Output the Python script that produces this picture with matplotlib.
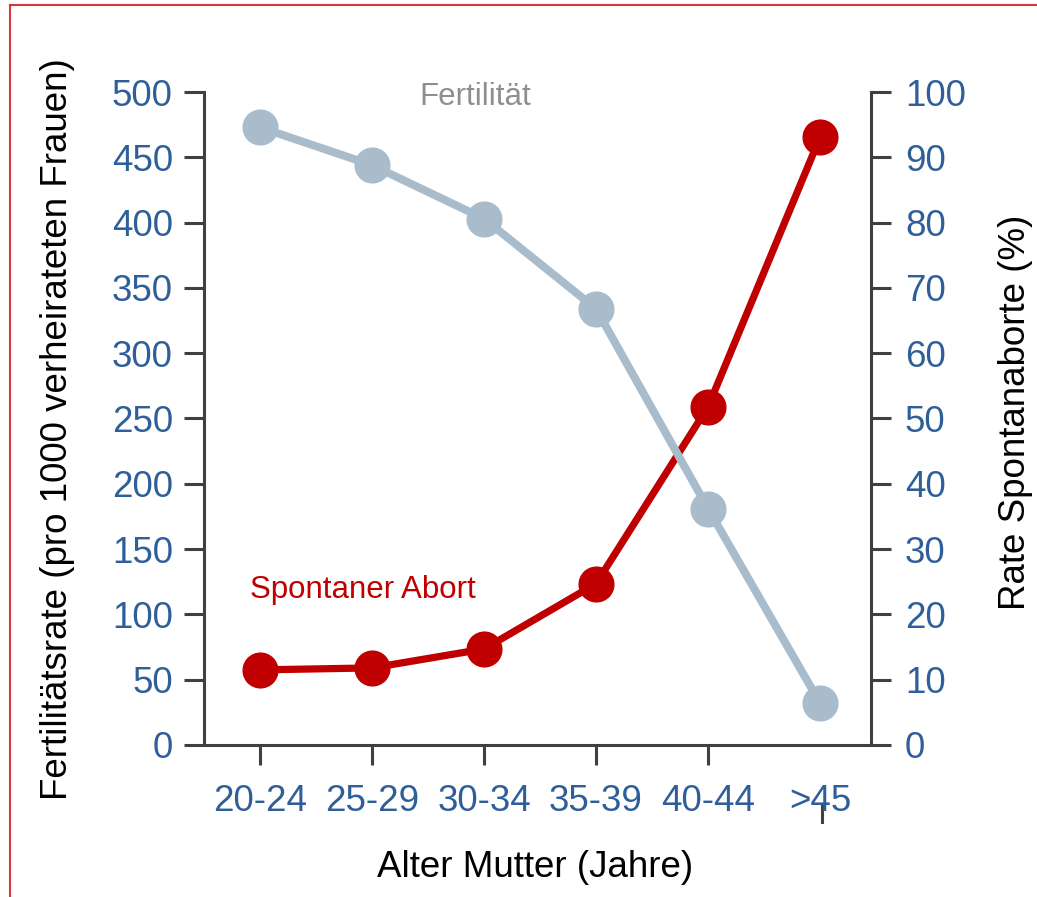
import matplotlib
matplotlib.use("Agg")
import matplotlib.pyplot as plt
import matplotlib.transforms as mtransforms
from matplotlib.lines import Line2D

plt.rcParams['font.family'] = ['Liberation Sans', 'DejaVu Sans']

categories = ["20-24", "25-29", "30-34", "35-39", "40-44", ">45"]
fertility = [473, 444, 403, 334, 181, 32]          # per 1000 married women (left axis)
abortion_rate = [11.5, 11.8, 14.7, 24.7, 51.8, 93.1]  # % (right axis)
left_ticks = [0, 50, 100, 150, 200, 250, 300, 350, 400, 450, 500]
right_ticks = [0, 10, 20, 30, 40, 50, 60, 70, 80, 90, 100]

GRAY = "#A9BCCB"
RED = "#C00000"
BLUE = "#2F5F99"
SPINE = "#404040"
FS = 26.5

fig = plt.figure(figsize=(10.37, 8.97), dpi=100)
ax = fig.add_axes([0.1967, 0.1695, 0.6433, 0.7279])
ax2 = ax.twinx()

x = list(range(len(categories)))

ax2.plot(x, abortion_rate, color=RED, lw=5.2, marker='o', markersize=25,
         solid_capstyle='round', zorder=2)
ax.plot(x, fertility, color=GRAY, lw=5.8, marker='o', markersize=25,
        solid_capstyle='round', zorder=3)
ax.set_zorder(ax2.get_zorder() + 1)
ax.patch.set_visible(False)

ax.set_xlim(-0.5, 5.455)
ax.set_ylim(0, 500)
ax2.set_ylim(0, 100)

ax.set_yticks(left_ticks)
ax2.set_yticks(right_ticks)
ax.set_xticks(x[:-1])
ax.set_xticklabels(categories[:-1])
trans = mtransforms.blended_transform_factory(ax.transData, ax.transAxes)

for a in (ax, ax2):
    for s in a.spines.values():
        s.set_color(SPINE)
        s.set_linewidth(2.2)
    a.spines['top'].set_visible(False)
    a.tick_params(length=14.4, width=2.2, color=SPINE, labelsize=FS,
                  labelcolor=BLUE, direction='out')

ax.spines['right'].set_visible(False)
ax2.spines['left'].set_visible(False)
ax2.spines['bottom'].set_visible(False)
ax.tick_params(axis='y', pad=8)
ax.tick_params(axis='x', pad=14)
ax2.tick_params(axis='y', pad=10)

# last category label, with its stray tick drawn lower (as in the original)
ax.text(5, -0.060, categories[-1], transform=trans, ha='center', va='top',
        fontsize=FS, color=BLUE)
ax.add_line(Line2D([5.02, 5.02], [-0.092, -0.118], transform=trans, color=SPINE,
                   lw=2.2, clip_on=False))

ax.set_xlabel("Alter Mutter (Jahre)", fontsize=FS, color='black')
ax.xaxis.set_label_coords(0.496, -0.188)
ax.xaxis.label.set_va('center')
ax.set_ylabel("Fertilitätsrate (pro 1000 verheirateten Frauen)", fontsize=FS,
              color='black')
ax.yaxis.set_label_coords(-0.220, 0.484)
ax.yaxis.label.set_va('center')
ax2.set_ylabel("Rate Spontanaborte (%)", fontsize=FS, color='black')
ax2.yaxis.set_label_coords(1.216, 0.510)
ax2.yaxis.label.set_va('center')

ax.text(0.406, 0.993, "Fertilität", transform=ax.transAxes, ha='center',
        va='center', fontsize=22.5, color="#8C8F92")
ax.text(0.238, 0.238, "Spontaner Abort", transform=ax.transAxes, ha='center',
        va='center', fontsize=22.5, color=RED)

# thin red frame visible along top and left
fig.add_artist(Line2D([0.0095, 1.0], [0.9945, 0.9945], transform=fig.transFigure,
                      color="#D9383A", lw=1.5))
fig.add_artist(Line2D([0.0095, 0.0095], [0.0, 0.9945], transform=fig.transFigure,
                      color="#D9383A", lw=1.5))

fig.savefig("out.png", dpi=100)
